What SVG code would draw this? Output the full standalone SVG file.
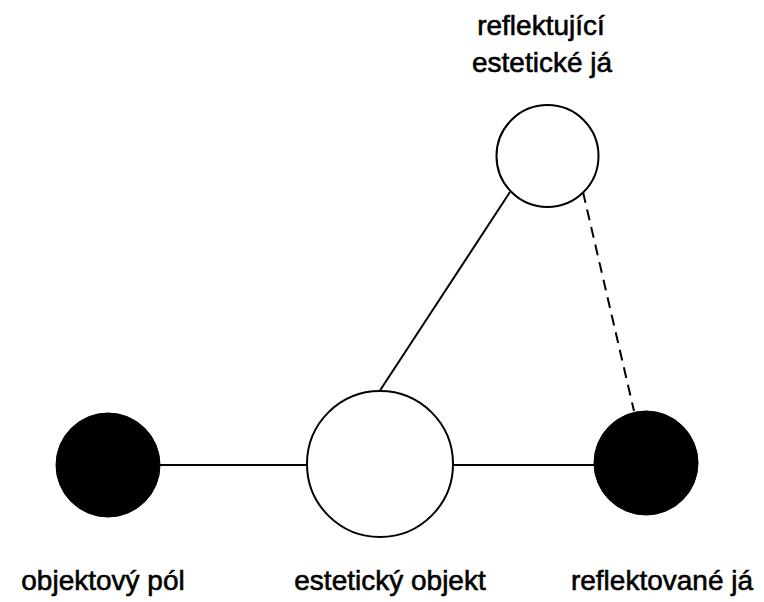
<svg xmlns="http://www.w3.org/2000/svg" width="764" height="602" viewBox="0 0 764 602">
<style>
.bg{fill:#ffffff}
.open{fill:#ffffff;stroke:#000000;stroke-width:2}
.filled{fill:#000000;stroke:#000000;stroke-width:1}
.edge{stroke:#000000;stroke-width:2;fill:none}
.dash{stroke-dasharray:11 7}
.lbl{font-family:"Liberation Sans",Arial,sans-serif;font-size:28px;fill:#000000;stroke:#000000;stroke-width:0.6;text-anchor:middle}
</style>
<rect class="bg" x="0" y="0" width="764" height="602"/>
<g id="connectors">
<line class="edge" x1="160" y1="465" x2="307" y2="465"/>
<line class="edge" x1="453" y1="465" x2="595" y2="465"/>
<line class="edge" x1="379" y1="392" x2="510" y2="192"/>
<line class="edge dash" x1="583" y1="192" x2="634" y2="411"/>
</g>
<g id="node-objektovy-pol">
<circle class="filled" cx="108" cy="465" r="52"/>
<text class="lbl" x="103" y="590">objektový pól</text>
</g>
<g id="node-esteticky-objekt">
<circle class="open" cx="380" cy="464" r="73"/>
<text class="lbl" x="390" y="590">estetický objekt</text>
</g>
<g id="node-reflektovane-ja">
<circle class="filled" cx="646" cy="463" r="52"/>
<text class="lbl" x="662" y="590">reflektované já</text>
</g>
<g id="node-reflektujici-ja">
<circle class="open" cx="547.5" cy="156" r="51"/>
<text class="lbl" x="541" y="35">reflektující</text>
<text class="lbl" x="542" y="72">estetické já</text>
</g>
</svg>
